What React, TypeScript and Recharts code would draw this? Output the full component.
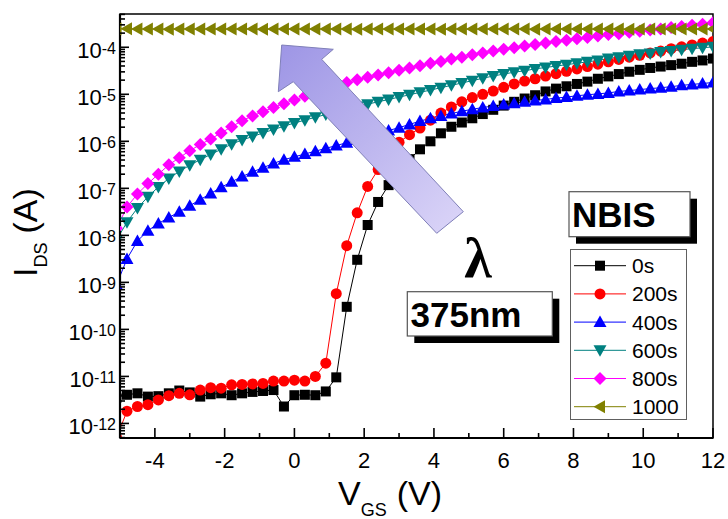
import React from "react";
import { LineChart, Line, XAxis, YAxis, ReferenceArea, Legend } from "recharts";

// gate voltage sweep (V)
const vgs = [
  -5.1, -4.8, -4.5, -4.2, -3.9, -3.6, -3.3, -3.0, -2.7, -2.4,
  -2.1, -1.8, -1.5, -1.2, -0.9, -0.6, -0.3, 0, 0.3, 0.6,
  0.9, 1.2, 1.5, 1.8, 2.1, 2.4, 2.7, 3.0, 3.3, 3.6,
  3.9, 4.2, 4.5, 4.8, 5.1, 5.4, 5.7, 6.0, 6.3, 6.6,
  6.9, 7.2, 7.5, 7.8, 8.1, 8.4, 8.7, 9.0, 9.3, 9.6,
  9.9, 10.2, 10.5, 10.8, 11.1, 11.4, 11.7, 12.0,
];

// drain current (A) after each illumination step
const ids0s = [
  3.55e-12, 4.07e-12, 4.37e-12, 3.72e-12, 3.8e-12, 4.37e-12, 5.01e-12, 4.57e-12, 3.72e-12, 4.17e-12,
  4.37e-12, 3.98e-12, 4.37e-12, 4.68e-12, 4.9e-12, 5.13e-12, 2.29e-12, 3.98e-12, 4.07e-12, 3.98e-12,
  4.79e-12, 9.55e-12, 3.02e-10, 3.02e-9, 1.66e-8, 5.13e-8, 1.17e-7, 2.4e-7, 4.17e-7, 6.76e-7,
  1.0e-6, 1.48e-6, 2.04e-6, 2.51e-6, 3.09e-6, 3.8e-6, 4.68e-6, 5.75e-6, 6.92e-6, 8.13e-6,
  9.55e-6, 1.15e-5, 1.32e-5, 1.48e-5, 1.66e-5, 1.86e-5, 2.14e-5, 2.4e-5, 2.69e-5, 3.02e-5,
  3.31e-5, 3.63e-5, 3.89e-5, 4.17e-5, 4.47e-5, 4.9e-5, 5.25e-5, 5.75e-5,
];
const ids200s = [
  5.0e-13, 1.82e-12, 2.29e-12, 2.51e-12, 3.16e-12, 3.89e-12, 4.37e-12, 4.07e-12, 5.13e-12, 5.75e-12,
  5.62e-12, 6.61e-12, 6.76e-12, 6.92e-12, 7.08e-12, 7.94e-12, 7.94e-12, 8.32e-12, 7.94e-12, 1.0e-11,
  1.91e-11, 5.75e-10, 6.03e-9, 3.02e-8, 1.1e-7, 2.51e-7, 5.01e-7, 9.55e-7, 1.38e-6, 1.91e-6,
  2.82e-6, 3.98e-6, 5.37e-6, 6.92e-6, 8.51e-6, 1.0e-5, 1.17e-5, 1.41e-5, 1.66e-5, 1.91e-5,
  2.14e-5, 2.45e-5, 2.75e-5, 3.09e-5, 3.47e-5, 3.89e-5, 4.37e-5, 4.9e-5, 5.5e-5, 6.17e-5,
  6.76e-5, 7.59e-5, 8.32e-5, 9.33e-5, 1.02e-4, 1.12e-4, 1.23e-4, 1.32e-4,
];
const ids400s = [
  8.91e-10, 3.16e-9, 7.59e-9, 1.26e-8, 1.78e-8, 2.4e-8, 3.16e-8, 4.27e-8, 5.75e-8, 7.76e-8,
  1.05e-7, 1.38e-7, 1.78e-7, 2.24e-7, 2.75e-7, 3.39e-7, 4.07e-7, 4.68e-7, 5.37e-7, 6.17e-7,
  7.08e-7, 8.13e-7, 9.33e-7, 1.07e-6, 1.23e-6, 1.45e-6, 1.7e-6, 1.95e-6, 2.29e-6, 2.69e-6,
  3.09e-6, 3.47e-6, 3.89e-6, 4.37e-6, 4.79e-6, 5.25e-6, 5.62e-6, 6.03e-6, 6.46e-6, 6.92e-6,
  7.41e-6, 7.76e-6, 8.32e-6, 8.71e-6, 9.33e-6, 9.77e-6, 1.02e-5, 1.07e-5, 1.15e-5, 1.2e-5,
  1.26e-5, 1.32e-5, 1.38e-5, 1.45e-5, 1.55e-5, 1.62e-5, 1.7e-5, 1.78e-5,
];
const ids600s = [
  7.94e-9, 1.91e-8, 3.8e-8, 6.61e-8, 1.07e-7, 1.62e-7, 2.29e-7, 3.09e-7, 4.07e-7, 5.25e-7,
  6.76e-7, 8.71e-7, 1.07e-6, 1.26e-6, 1.51e-6, 1.78e-6, 2.09e-6, 2.45e-6, 2.82e-6, 3.24e-6,
  3.72e-6, 4.17e-6, 4.79e-6, 5.5e-6, 6.17e-6, 6.92e-6, 7.76e-6, 8.71e-6, 9.77e-6, 1.1e-5,
  1.23e-5, 1.38e-5, 1.55e-5, 1.74e-5, 1.95e-5, 2.19e-5, 2.45e-5, 2.69e-5, 2.95e-5, 3.16e-5,
  3.47e-5, 3.72e-5, 3.98e-5, 4.27e-5, 4.57e-5, 4.9e-5, 5.25e-5, 5.75e-5, 6.17e-5, 6.61e-5,
  7.08e-5, 7.41e-5, 7.94e-5, 8.32e-5, 8.91e-5, 9.33e-5, 9.77e-5, 1.02e-4,
];
const ids800s = [
  1.41e-8, 4.0e-8, 7.6e-8, 1.26e-7, 2.0e-7, 3.16e-7, 4.47e-7, 6.31e-7, 8.51e-7, 1.12e-6,
  1.51e-6, 2.04e-6, 2.75e-6, 3.47e-6, 4.27e-6, 5.25e-6, 6.31e-6, 7.59e-6, 9.12e-6, 1.12e-5,
  1.35e-5, 1.55e-5, 1.78e-5, 2.04e-5, 2.29e-5, 2.57e-5, 2.88e-5, 3.24e-5, 3.63e-5, 4.07e-5,
  4.57e-5, 5.01e-5, 5.62e-5, 6.17e-5, 6.92e-5, 7.59e-5, 8.32e-5, 9.12e-5, 9.77e-5, 1.07e-4,
  1.15e-4, 1.23e-4, 1.32e-4, 1.41e-4, 1.51e-4, 1.62e-4, 1.74e-4, 1.86e-4, 1.95e-4, 2.09e-4,
  2.19e-4, 2.34e-4, 2.45e-4, 2.63e-4, 2.75e-4, 2.95e-4, 3.09e-4, 3.31e-4,
];
const ids1000s = [
  2.45e-4, 2.47e-4, 2.44e-4, 2.46e-4, 2.45e-4, 2.43e-4, 2.46e-4, 2.45e-4, 2.44e-4, 2.46e-4,
  2.45e-4, 2.44e-4, 2.46e-4, 2.45e-4, 2.43e-4, 2.45e-4, 2.46e-4, 2.44e-4, 2.45e-4, 2.46e-4,
  2.44e-4, 2.45e-4, 2.45e-4, 2.43e-4, 2.46e-4, 2.45e-4, 2.44e-4, 2.45e-4, 2.46e-4, 2.44e-4,
  2.45e-4, 2.43e-4, 2.45e-4, 2.46e-4, 2.44e-4, 2.45e-4, 2.45e-4, 2.44e-4, 2.46e-4, 2.45e-4,
  2.43e-4, 2.45e-4, 2.46e-4, 2.44e-4, 2.45e-4, 2.45e-4, 2.44e-4, 2.46e-4, 2.45e-4, 2.43e-4,
  2.45e-4, 2.46e-4, 2.44e-4, 2.45e-4, 2.45e-4, 2.44e-4, 2.46e-4, 2.45e-4,
];

const xTicks = [-5, -4, -3, -2, -1, 0, 1, 2, 3, 4, 5, 6, 7, 8, 9, 10, 11, 12];
const yDecades = [1e-12, 1e-11, 1e-10, 1e-9, 1e-8, 1e-7, 1e-6, 1e-5, 1e-4];
const yMinorSteps = [2, 3, 4, 5, 6, 7, 8, 9];

const Y_MIN = 4.9e-13;
const Y_MAX = 5.1e-4;
const W = 728;
const H = 519;
const PLOT_LEFT = 120;
const PLOT_BOTTOM = 438;
const FONT = 'Arial, "Liberation Sans", Helvetica, sans-serif';

const yTicks = [1e-13, ...yDecades]
  .flatMap((d) => [d, ...yMinorSteps.map((k) => k * d)])
  .filter((v) => v >= Y_MIN && v <= Y_MAX);

const SERIES = [
  { key: "t0", name: "0s", color: "#000000", shape: "square", values: ids0s },
  { key: "t200", name: "200s", color: "#ff0000", shape: "circle", values: ids200s },
  { key: "t400", name: "400s", color: "#0000ff", shape: "up", values: ids400s },
  { key: "t600", name: "600s", color: "#008080", shape: "down", values: ids600s },
  { key: "t800", name: "800s", color: "#ff00ff", shape: "diamond", values: ids800s },
  { key: "t1000", name: "1000", color: "#808000", shape: "left", values: ids1000s },
];

const rows = vgs.map((v, i) => {
  const row: Record<string, number> = { vgs: v };
  SERIES.forEach((s) => {
    row[s.key] = s.values[i];
  });
  return row;
});

function Marker({ shape, cx, cy, color }: { shape: string; cx: number; cy: number; color: string }) {
  if (cx == null || cy == null || isNaN(cx) || isNaN(cy)) return <g />;
  switch (shape) {
    case "square":
      return <rect x={cx - 5} y={cy - 5} width={10} height={10} fill={color} />;
    case "circle":
      return <circle cx={cx} cy={cy} r={5.5} fill={color} />;
    case "up":
      return <polygon points={`${cx},${cy - 6.5} ${cx + 6.5},${cy + 5} ${cx - 6.5},${cy + 5}`} fill={color} />;
    case "down":
      return <polygon points={`${cx - 6.5},${cy - 5} ${cx + 6.5},${cy - 5} ${cx},${cy + 6.5}`} fill={color} />;
    case "diamond":
      return <polygon points={`${cx},${cy - 6.5} ${cx + 6.5},${cy} ${cx},${cy + 6.5} ${cx - 6.5},${cy}`} fill={color} />;
    default:
      return <polygon points={`${cx - 6.5},${cy} ${cx + 5},${cy - 6.5} ${cx + 5},${cy + 6.5}`} fill={color} />;
  }
}

const dotFor = (shape: string, color: string) => (p: any) =>
  <Marker key={`${shape}-${p.index}`} shape={shape} cx={p.cx} cy={p.cy} color={color} />;

// inward ticks, long on decades / even volts
const YTick = ({ y, payload }: any) => {
  const v = payload.value;
  const major = yDecades.includes(v);
  return (
    <g>
      <line x1={PLOT_LEFT} x2={PLOT_LEFT + (major ? 9 : 5)} y1={y} y2={y} stroke="#000" strokeWidth={1.6} />
      {major && (
        <text x={116} y={y + 11} textAnchor="end" fontSize={22} fill="#000" fontFamily={FONT}>
          10<tspan fontSize={16} dy={-4}>{Math.round(Math.log10(v))}</tspan>
        </text>
      )}
    </g>
  );
};

const XTick = ({ x, payload }: any) => {
  const v = payload.value;
  const major = v % 2 === 0;
  return (
    <g>
      <line x1={x} x2={x} y1={PLOT_BOTTOM} y2={PLOT_BOTTOM - (major ? 10 : 5)} stroke="#000" strokeWidth={1.6} />
      {major && (
        <text x={x} y={468} textAnchor="middle" fontSize={22} fill="#000" fontFamily={FONT}>
          {v}
        </text>
      )}
    </g>
  );
};

// legend keeps the plotting order of the series
const LegendBox = () => (
  <svg width={117} height={172} style={{ display: "block" }}>
    <rect x={0.5} y={0.5} width={116} height={170} fill="#fff" stroke="#606060" strokeWidth={1} />
    {SERIES.map((s, i) => {
      const cy = 16.7 + i * 28.2;
      return (
        <g key={s.key}>
          <line x1={4} x2={56} y1={cy} y2={cy} stroke={s.color} strokeWidth={1} />
          <Marker shape={s.shape} cx={30} cy={cy} color={s.color} />
          <text x={62} y={cy + 7.5} fontSize={21} fill="#000" fontFamily={FONT}>
            {s.name}
          </text>
        </g>
      );
    })}
  </svg>
);

export default function App() {
  return (
    <div style={{ position: "absolute", left: 0, top: 0, width: W, height: H, background: "#fff", overflow: "hidden", fontFamily: FONT }}>
      <LineChart width={W} height={H} data={rows} margin={{ top: 14, right: 15, bottom: 21, left: 0 }}>
        <XAxis
          dataKey="vgs"
          type="number"
          domain={[-5, 12]}
          allowDataOverflow
          ticks={xTicks}
          interval={0}
          height={60}
          tickSize={0}
          tickLine={false}
          tick={<XTick />}
          axisLine={{ stroke: "#000", strokeWidth: 2.2 }}
        />
        <YAxis
          type="number"
          scale="log"
          domain={[Y_MIN, Y_MAX]}
          allowDataOverflow
          ticks={yTicks}
          interval={0}
          width={120}
          tickSize={0}
          tickLine={false}
          tick={<YTick />}
          axisLine={{ stroke: "#000", strokeWidth: 2.2 }}
        />
        <ReferenceArea x1={-5} x2={12} y1={Y_MIN} y2={Y_MAX} fill="none" stroke="#000" strokeWidth={1.5} />
        {SERIES.map((s) => (
          <Line
            key={s.key}
            dataKey={s.key}
            name={s.name}
            type="linear"
            stroke={s.color}
            strokeWidth={1}
            dot={dotFor(s.shape, s.color)}
            activeDot={false}
            isAnimationActive={false}
          />
        ))}
        <Legend
          layout="vertical"
          align="center"
          verticalAlign="middle"
          content={<LegendBox />}
          wrapperStyle={{ position: "absolute", left: 570, top: 249, width: 117, height: 172, margin: 0, padding: 0 }}
        />
      </LineChart>

      <svg width={W} height={H} style={{ position: "absolute", left: 0, top: 0, pointerEvents: "none" }}>
        <defs>
          <linearGradient id="arrowFill" x1="0" y1="0" x2="1" y2="1">
            <stop offset="0" stopColor="#9d95e5" />
            <stop offset="1" stopColor="#dcd6f8" />
          </linearGradient>
        </defs>
        <polygon
          points="281.7,45 333.3,49.3 321.7,59.3 463.3,211.7 436.7,233.3 293.3,81.7 278.3,91.7"
          fill="url(#arrowFill)"
          stroke="#7f7fb8"
          strokeWidth={1}
        />
        <text x={478} y={277} textAnchor="middle" fontSize={56} fontWeight="bold" fill="#000" fontFamily={'"Liberation Serif", "DejaVu Serif", serif'}>
          λ
        </text>

        <rect x={576} y={198.7} width={121} height={45} fill="#000" />
        <rect x={569} y={191.7} width={121} height={45} fill="#fff" stroke="#555" strokeWidth={1.2} />
        <text x={572} y={227} fontSize={35} fontWeight="bold" fill="#000" fontFamily={FONT}>
          NBIS
        </text>

        <rect x={414.3} y={298.7} width={145} height={44.3} fill="#000" />
        <rect x={407.3} y={291.7} width={145} height={44.3} fill="#fff" stroke="#555" strokeWidth={1.2} />
        <text x={410.5} y={326.7} fontSize={35} fontWeight="bold" fill="#000" fontFamily={FONT}>
          375nm
        </text>

        <text transform="translate(37,277) rotate(-90)" fontSize={34} fill="#000" fontFamily={FONT}>
          I
          <tspan fontSize={18} dy={10}>DS</tspan>
          <tspan dx={9} dy={-10}>(A)</tspan>
        </text>
        <text x={338} y={505} fontSize={34} fill="#000" fontFamily={FONT}>
          V
          <tspan fontSize={18} dy={11}>GS</tspan>
          <tspan dx={10} dy={-11}>(V)</tspan>
        </text>
      </svg>
    </div>
  );
}
